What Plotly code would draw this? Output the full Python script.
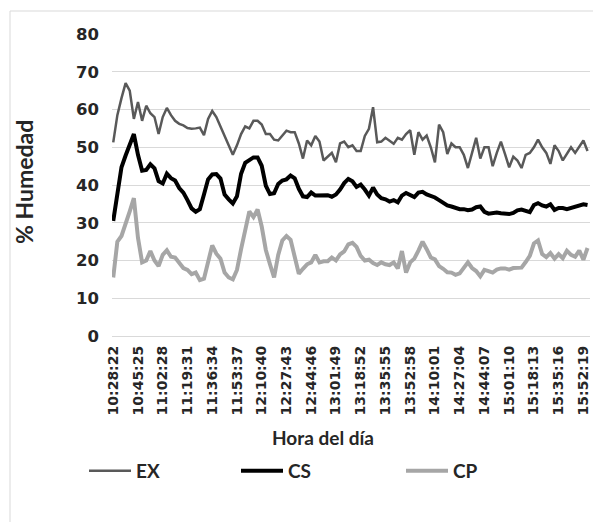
import plotly.graph_objects as go

# ---- data ----
tick_labels = ["10:28:22", "10:45:25", "11:02:28", "11:19:31", "11:36:34",
               "11:53:37", "12:10:40", "12:27:43", "12:44:46", "13:01:49",
               "13:18:52", "13:35:55", "13:52:58", "14:10:01", "14:27:04",
               "14:44:07", "15:01:10", "15:18:13", "15:35:16", "15:52:19"]
points_per_label = 6

ex = [51.3, 58.5, 63, 67, 65, 57.5, 62, 57, 61, 59,
      58, 53.5, 58, 60.4, 58.5, 57, 56.2, 55.8, 55.1, 54.9,
      55, 55.2, 53.2, 57.5, 59.6, 58, 55.5, 53, 50.8, 48,
      50.5, 53.5, 55.5, 55, 57, 57, 56, 53.5, 53.5, 52,
      51.8, 53, 54.4, 54, 54, 51, 47, 51.8, 50.5, 53,
      51.5, 46.5, 47.5,
      48.5, 46, 51, 51.5, 50, 50.5, 49, 49, 53, 54.9,
      60.6, 51.3, 51.5, 52.5, 51.8, 50.9, 52.5, 52, 53.5, 54.5,
      48, 54, 52, 53.1, 50, 46, 56, 54, 48.2, 51,
      50, 50, 48, 44.5, 48.5, 52.5, 47, 50, 50, 45,
      48.5, 51.5, 48.2, 44.7, 47.5, 46.5, 44.5, 48, 48.5, 50,
      52, 50, 48.5, 45.6, 50.5, 49, 46.5, 48.2, 50, 48.5,
      50, 51.8, 49]

cs = [30.5, 37.5, 44.7, 47.8, 51, 53.5, 48, 43.8, 44, 45.5,
      44.4, 41, 40.4, 43, 41.8, 41.2, 39.2, 38, 36, 33.8,
      32.9, 33.6, 37.5, 41.5, 42.8, 42.9, 41.7, 37.5, 36.2, 35.1,
      37, 43, 45.9, 46.6, 47.3, 47.3, 45.1, 39.8, 37.6, 37.8,
      40.3, 41.2, 41.5, 42.5, 41.8, 39, 37, 36.8, 38, 37.2,
      37.2, 37.2, 37.3,
      36.9, 37.5, 38.8, 40.5, 41.6, 41, 39.5, 40.1, 38.8, 37.2,
      39.3, 37.5, 36.5, 36.2, 35.6, 36, 35.4, 37.2, 37.9, 37.2,
      36.8, 38, 38.2, 37.5, 37.1, 36.7, 36, 35.3, 34.6, 34.3,
      34, 33.6, 33.6, 33.3, 33.5, 34.1, 34.3, 32.9, 32.4, 32.5,
      32.7, 32.5, 32.4, 32.3, 32.6, 33.3, 33.5, 33.2, 32.8, 34.7,
      35.2, 34.6, 34.3, 34.9, 33.4, 33.9, 33.9, 33.6, 33.9, 34.1,
      34.5, 34.9, 34.7]

cp = [15.5, 25, 26.5, 29.5, 33, 36.5, 26, 19.5, 20, 22.5,
      20, 18.5, 21.5, 22.7, 21, 20.8, 19.2, 18, 17.5, 16.4,
      16.8, 14.8, 15.2, 19.5, 24, 21.8, 20.5, 16.8, 15.5, 15,
      17.5, 23, 27.5, 33, 31.5, 33.5, 29, 22.8, 19, 15.5,
      21.5, 25.3, 26.5, 25.5, 21, 16.5, 17.8, 19, 19.5, 21.5,
      19.5, 19.8, 19.8,
      20.8, 20, 21.6, 22.4, 24.3, 24.7, 23.6, 21.2, 20, 20.2,
      19.3, 18.8, 19.5, 19, 18.8, 19.5, 17.9, 22.5, 16.8, 19.5,
      20.5, 22.6, 25, 23, 20.8, 20.3, 18.5, 17.8, 16.9, 16.8,
      16.2, 16.6, 18, 19.5, 18, 17.2, 15.8, 17.5, 17.2, 16.8,
      17.6, 17.9, 17.9, 17.6, 18, 18.1, 18.1, 19.6, 21.2, 24.5,
      25.3, 21.7, 20.9, 22, 20.5, 21.7, 20.6, 22.6, 21.5, 21,
      22.6, 20.2, 23.3]

series_names = ["EX", "CS", "CP"]
series_colors = ["#595959", "#000000", "#a6a6a6"]
series_widths = [2.5, 4, 4]

# ---- figure ----
x_index = list(range(len(ex)))
tick_positions = [i * points_per_label for i in range(len(tick_labels))]

OFF = 8  # page body margin of the browser
W, H = 601 - OFF, 522 - OFF
# plot area in reference pixel coordinates
PX0, PX1, PY0, PY1 = 112, 590, 34, 336
L, R, T, B = PX0 - OFF, W - (PX1 - OFF), PY0 - OFF, H - (PY1 - OFF)
pw, ph = W - L - R, H - T - B

def px_x(p):
    return (p - OFF - L) / pw

def px_y(p):
    return (PY1 - p) / ph

fig = go.Figure()
for name, vals, col, w, lg in zip(series_names, [ex, cs, cp], series_colors,
                                  series_widths, ["legend", "legend2", "legend3"]):
    fig.add_trace(go.Scatter(x=x_index, y=vals, mode="lines", name=name,
                             line=dict(color=col, width=w), legend=lg))

legend_font = dict(family="Lato", size=19, color="#262626", weight="bold")
common_leg = dict(orientation="h", yanchor="middle", xanchor="left",
                  bgcolor="rgba(0,0,0,0)", font=legend_font, itemwidth=42,
                  borderwidth=0)

fig.update_layout(
    width=W, height=H,
    margin=dict(l=L, r=R, t=T, b=B, autoexpand=False),
    paper_bgcolor="white", plot_bgcolor="white",
    showlegend=True,
    legend=dict(x=px_x(84), y=px_y(471), **common_leg),
    legend2=dict(x=px_x(236), y=px_y(471), **common_leg),
    legend3=dict(x=px_x(401), y=px_y(471), **common_leg),
    xaxis=dict(range=[-0.3, 115.6], tickmode="array", tickvals=tick_positions,
               ticktext=tick_labels, tickangle=-90, showgrid=False,
               zeroline=False, showline=False, ticks="",
               ticklabelstandoff=6, automargin=False,
               tickfont=dict(family="DejaVu Sans", size=14, color="#262626",
                             weight="bold")),
    yaxis=dict(range=[0, 80], dtick=10, tick0=0, showgrid=True,
               gridcolor="#d9d9d9", gridwidth=1, zeroline=True,
               zerolinecolor="#d9d9d9", zerolinewidth=1, showline=False,
               ticks="", ticklabelstandoff=12, automargin=False,
               tickfont=dict(family="DejaVu Sans", size=16.5, color="#262626",
                             weight="bold")),
    annotations=[
        dict(text="Hora del día", xref="paper", yref="paper",
             x=px_x(323), y=px_y(437), showarrow=False,
             xanchor="center", yanchor="middle",
             font=dict(family="Lato", size=19, color="#262626", weight="bold")),
        dict(text="% Humedad", xref="paper", yref="paper",
             x=px_x(24), y=px_y(182), showarrow=False, textangle=-90,
             xanchor="center", yanchor="middle",
             font=dict(family="Lato", size=23, color="#262626", weight="bold")),
    ],
    shapes=[dict(type="rect", xref="paper", yref="paper",
                 x0=px_x(10), x1=px_x(598), y0=px_y(540), y1=px_y(11),
                 line=dict(color="#d9d9d9", width=1), fillcolor="rgba(0,0,0,0)",
                 layer="below")],
)

fig.write_html("out.html")
